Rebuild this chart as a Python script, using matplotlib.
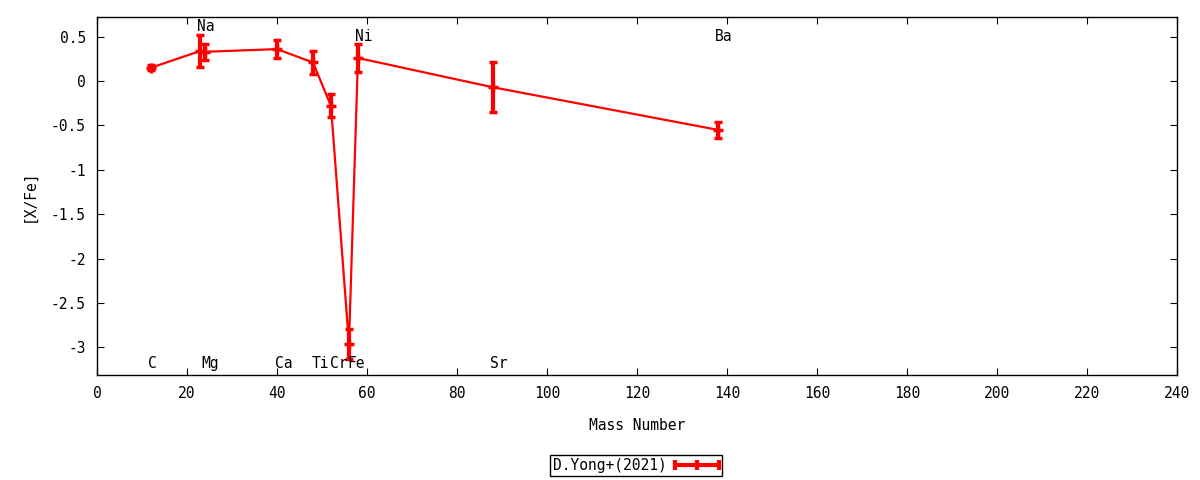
import matplotlib
matplotlib.use("Agg")
import matplotlib.pyplot as plt
from matplotlib.ticker import FuncFormatter
from matplotlib.lines import Line2D

# datos
elementos = ["C", "Na", "Mg", "Ca", "Ti", "Cr", "Fe", "Ni", "Sr", "Ba"]
masa = [12, 23, 24, 40, 48, 52, 56, 58, 88, 138]
xfe = [0.15, 0.34, 0.33, 0.36, 0.21, -0.28, -2.96, 0.26, -0.07, -0.55]
err = [0.03, 0.18, 0.09, 0.10, 0.13, 0.13, 0.17, 0.16, 0.28, 0.09]

# posicion de las etiquetas
etiq_y = [-3.18, 0.61, -3.18, -3.18, -3.18, -3.18, -3.18, 0.5, -3.18, 0.5]
etiq_x = [11.3, 22.2, 23.3, 39.6, 47.8, 51.8, 55.6, 57.3, 87.3, 137.3]

plt.rcParams['font.family'] = ['DejaVu Sans Mono']
plt.rcParams['font.size'] = 10.5

fig = plt.figure(figsize=(12, 4.8), dpi=100)
ax = fig.add_axes([0.0808, 0.2188, 0.9, 0.7458])

ax.errorbar(masa, xfe, yerr=err, color='red', lw=1.6, elinewidth=3,
            capsize=2.6, capthick=3, marker='+', ms=7, mew=2.5)


# leyenda estilo gnuplot: barra horizontal con topes en los extremos
class HandlerBarra:
    def legend_artist(self, legend, orig_handle, fontsize, handlebox):
        x0, y0 = handlebox.xdescent, handlebox.ydescent
        w, h = handlebox.width, handlebox.height
        ym = y0 + h / 2
        tr = handlebox.get_transform()
        linea = Line2D([x0, x0 + w], [ym, ym], color='red', lw=3, transform=tr)
        topes = Line2D([x0, x0 + w / 2, x0 + w], [ym, ym, ym], ls='',
                       marker='|', ms=7, mew=3, color='red', transform=tr)
        handlebox.add_artist(linea)
        handlebox.add_artist(topes)
        return linea


proxy = Line2D([], [], color='red', label='D.Yong+(2021)')

for el, x, y in zip(elementos, etiq_x, etiq_y):
    ax.text(x, y, el, ha='left', va='center', fontsize=10.5)

ax.set_xlim(0, 240)
ax.set_ylim(-3.312, 0.722)
ax.set_xticks(range(0, 241, 20))
ax.set_yticks([0.5, 0, -0.5, -1, -1.5, -2, -2.5, -3])
ax.yaxis.set_major_formatter(FuncFormatter(lambda v, p: '%g' % v))
ax.tick_params(direction='in', length=5, top=True, right=True, pad=8)
for s in ax.spines.values():
    s.set_linewidth(1)

ax.set_xlabel('Mass Number', labelpad=12)
ax.set_ylabel('[X/Fe]', labelpad=10)

leg = fig.legend(handles=[proxy], loc='center', bbox_to_anchor=(0.53, 0.031),
                 markerfirst=False, fancybox=False, edgecolor='black',
                 framealpha=1, borderpad=0.2, handlelength=3.0,
                 borderaxespad=0, handletextpad=0.6,
                 handler_map={Line2D: HandlerBarra()})
leg.get_frame().set_linewidth(1)

plt.savefig("out.png")
